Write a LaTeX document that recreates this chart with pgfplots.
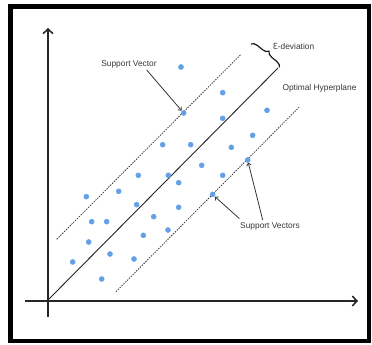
\documentclass[border=0pt]{standalone}
\usepackage{fontspec}
\setmainfont{Liberation Sans}
\newfontfamily\dejavu{DejaVu Sans}
\usepackage{pgfplots}
\pgfplotsset{compat=1.18}
\usetikzlibrary{arrows.meta,decorations.pathreplacing}
\definecolor{ptc}{RGB}{98,160,232}
\definecolor{txt}{RGB}{55,55,55}
\begin{document}
\begin{tikzpicture}
\begin{axis}[
  width=10cm, height=9.274cm, scale only axis,
  xmin=0, xmax=372, ymin=0, ymax=345, y dir=reverse,
  hide axis, clip=false,
]
\fill[white] (axis cs:0,0) rectangle (axis cs:372,345);
\draw[line width=3.4pt] (axis cs:10.5,6.5) rectangle (axis cs:369,341);
% axes
\addplot[black!85, line width=1.2pt, -{Straight Barb[length=3.5pt,width=7.5pt]}] coordinates {(48,317) (48,28)};
\addplot[black!85, line width=1.2pt, -{Straight Barb[length=3.5pt,width=7.5pt]}] coordinates {(25,301) (358,301)};
% hyperplane and margins
\addplot[black!85, line width=0.7pt] coordinates {(48,300) (278,68)};
\addplot[black!80, line width=0.6pt, dash pattern=on 1.1pt off 0.9pt] coordinates {(56.7,239.3) (241,54.3)};
\addplot[black!80, line width=0.6pt, dash pattern=on 1.1pt off 0.9pt] coordinates {(116,291.7) (299,107.3)};
% points
\addplot[only marks, mark=*, mark size=1.9pt, color=ptc, mark options={draw=ptc, fill=ptc}] coordinates {
(181,67) (222.7,92.7) (183.7,113) (222.7,118.3) (267,110.3)
(162.7,144.7) (190.7,144.7) (252.7,135.3) (231.3,147.3) (247.7,160)
(201.7,165.3) (138.3,175.3) (168.3,175.3) (222.7,175.3) (178.7,182.7)
(118.7,191.3) (86.3,196.7) (212.7,194.3) (136.7,204.7) (178.7,207.3)
(153.7,216.7) (91.7,221.7) (106.7,221.7) (168,230) (143.3,235.3)
(88.7,242) (110,254) (134,259) (72.7,262) (101.7,279)
};
% brace
\draw[black!90, line width=0.9pt, decorate, decoration={brace, amplitude=4.5pt}] (axis cs:251,44) -- (axis cs:279.5,67.5);
% labels
\node[txt, font=\fontsize{6.4}{7}\selectfont, anchor=west, inner sep=0pt] at (axis cs:272.5,46) {{\dejavu Ɛ}-deviation};
\node[txt, font=\fontsize{6.4}{7}\selectfont, inner sep=0pt] at (axis cs:129,64) {Support Vector};
\node[txt, font=\fontsize{6.4}{7}\selectfont, inner sep=0pt] at (axis cs:319.5,88) {Optimal Hyperplane};
\node[txt, font=\fontsize{6.4}{7}\selectfont, inner sep=0pt] at (axis cs:270,226.5) {Support Vectors};
% arrows
\draw[black!80, line width=0.6pt, -{To[length=2.5pt,width=4pt]}] (axis cs:146.7,70) -- (axis cs:181.5,110.5);
\draw[black!80, line width=0.6pt, -{To[length=2.5pt,width=4pt]}] (axis cs:239.3,218.5) -- (axis cs:215,196.7);
\draw[black!80, line width=0.6pt, -{To[length=2.5pt,width=4pt]}] (axis cs:262.7,220) -- (axis cs:248.3,162.7);
\end{axis}
\end{tikzpicture}
\end{document}
